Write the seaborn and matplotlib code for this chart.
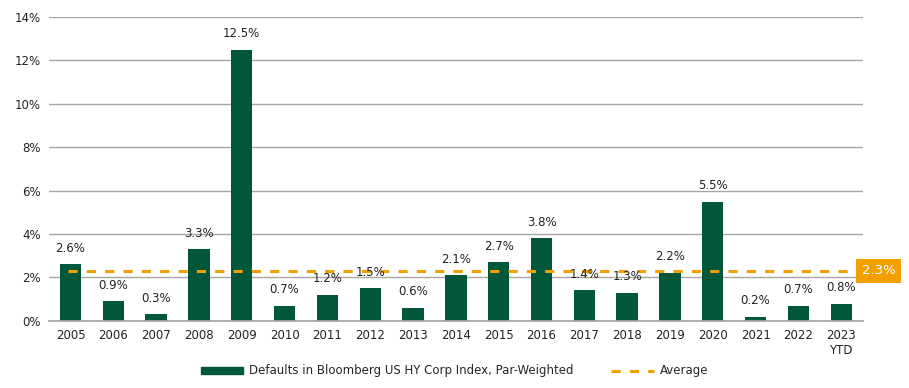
import matplotlib.pyplot as plt
import matplotlib.patches as mpatches
import matplotlib.lines as mlines
import seaborn as sns
import pandas as pd

# données
years = ['2005', '2006', '2007', '2008', '2009', '2010', '2011', '2012', '2013', '2014',
         '2015', '2016', '2017', '2018', '2019', '2020', '2021', '2022', '2023\nYTD']
defaults = [2.6, 0.9, 0.3, 3.3, 12.5, 0.7, 1.2, 1.5, 0.6, 2.1,
            2.7, 3.8, 1.4, 1.3, 2.2, 5.5, 0.2, 0.7, 0.8]
average = 2.3

green = '#00573A'
orange = '#F2A000'

df = pd.DataFrame({'year': years, 'rate': defaults})

sns.set_theme(style="white")
plt.rcParams['font.family'] = ['DejaVu Sans']

fig = plt.figure(figsize=(9.09, 3.88), dpi=100)
ax = fig.add_axes([0.054, 0.173, 0.895, 0.783])

sns.barplot(data=df, x='year', y='rate', color=green, width=0.5, saturation=1,
            linewidth=0, ax=ax)

# étiquettes au-dessus des barres
for i, v in enumerate(defaults):
    ax.annotate(f'{v:.1f}%', (i, v), xytext=(0, 7), textcoords='offset points',
                ha='center', va='bottom', fontsize=8.5, color='#222222', zorder=4)

# ligne de moyenne
ax.hlines(average, -0.05, 18.2, colors=orange, linestyles=(0, (3, 3)), linewidth=2.2, zorder=3)
ax.annotate(f'{average:.1f}%', xy=(1.0, average), xycoords=('axes fraction', 'data'),
            xytext=(11.5, 0), textcoords='offset points', ha='center', va='center',
            fontsize=9.5, color='white',
            bbox=dict(boxstyle='square,pad=0.4', fc=orange, ec='none'))

ax.set_ylim(0, 14)
ax.set_xlim(-0.5, 18.5)
ax.set_yticks(range(0, 15, 2))
ax.set_yticklabels([f'{t}%' for t in range(0, 15, 2)])
ax.yaxis.grid(True, color='#A6A6A6', linewidth=1)
ax.set_axisbelow(True)
ax.set_xlabel('')
ax.set_ylabel('')
ax.tick_params(axis='both', labelsize=8.5, colors='#222222', length=0, pad=6)
for s in ['top', 'right', 'left']:
    ax.spines[s].set_visible(False)
ax.spines['bottom'].set_color('#A6A6A6')

h1 = mpatches.Patch(color=green, label='Defaults in Bloomberg US HY Corp Index, Par-Weighted')
h2 = mlines.Line2D([], [], color=orange, linestyle=(0, (3, 3)), linewidth=2.2, label='Average')
fig.legend(handles=[h1, h2], loc='lower center', bbox_to_anchor=(0.5, 0.0), ncol=2,
           frameon=False, fontsize=8.5, columnspacing=3.2, handlelength=3.6,
           handleheight=0.5, handletextpad=0.5)

plt.savefig('out.png', dpi=100)
